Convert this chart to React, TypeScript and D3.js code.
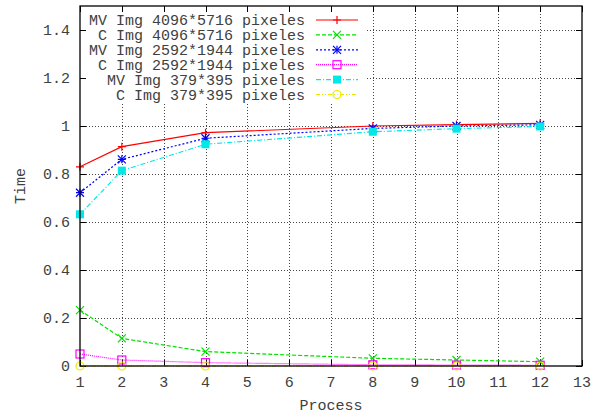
import React, { useRef, useEffect } from "react";
import * as d3 from "d3";

const processes = [1, 2, 4, 8, 10, 12];
const mv4096 = [0.83, 0.914, 0.972, 1.0, 1.006, 1.011];
const c4096 = [0.233, 0.115, 0.06, 0.032, 0.025, 0.018];
const mv2592 = [0.722, 0.861, 0.949, 0.99, 1.0, 1.005];
const c2592 = [0.05, 0.025, 0.014, 0.005, 0.004, 0.003];
const mv379 = [0.632, 0.814, 0.924, 0.976, 0.989, 0.998];
const c379 = [0, 0, 0, 0, 0, 0];

const seriesNames = [
  "MV Img 4096*5716 pixeles",
  "C Img 4096*5716 pixeles",
  "MV Img 2592*1944 pixeles",
  "C Img 2592*1944 pixeles",
  "MV Img 379*395 pixeles",
  "C Img 379*395 pixeles",
];
const xTicks = d3.range(1, 14);
const yTicks = [0, 0.2, 0.4, 0.6, 0.8, 1, 1.2, 1.4];

const styles = [
  { color: "#ff0000", dash: null, marker: "plus" },
  { color: "#00e000", dash: "4,2", marker: "cross" },
  { color: "#0000ff", dash: "2,2", marker: "star" },
  { color: "#ff00ff", dash: "1,1", marker: "box" },
  { color: "#00e8e8", dash: "5,2,1,2", marker: "fbox" },
  { color: "#e8e800", dash: "4,2,1,2,1,2", marker: "circle" },
];

const W = 606;
const H = 417;
const FONT = "'Liberation Mono', 'DejaVu Sans Mono', monospace";
const TXT = "#404040";

function drawMarker(g, kind, cx, cy, color) {
  const s = 4;
  if (kind === "plus" || kind === "star") {
    g.append("path")
      .attr("d", `M${cx - s},${cy}H${cx + s}M${cx},${cy - s}V${cy + s}`)
      .attr("stroke", color).attr("fill", "none");
  }
  if (kind === "cross" || kind === "star") {
    g.append("path")
      .attr("d", `M${cx - s},${cy - s}L${cx + s},${cy + s}M${cx - s},${cy + s}L${cx + s},${cy - s}`)
      .attr("stroke", color).attr("fill", "none");
  }
  if (kind === "box") {
    g.append("rect").attr("x", cx - s).attr("y", cy - s).attr("width", 2 * s).attr("height", 2 * s)
      .attr("stroke", color).attr("fill", "none");
  }
  if (kind === "fbox") {
    g.append("rect").attr("x", cx - s).attr("y", cy - s).attr("width", 2 * s).attr("height", 2 * s)
      .attr("fill", color);
  }
  if (kind === "circle") {
    g.append("circle").attr("cx", cx).attr("cy", cy).attr("r", s)
      .attr("stroke", color).attr("fill", "none");
  }
}

const App = () => {
  const svgRef = useRef(null);

  useEffect(() => {
    const svg = d3.select(svgRef.current);
    svg.selectAll("*").remove();

    const x = d3.scaleLinear().domain([1, 13]).range([80, 582]);
    const y = d3.scaleLinear().domain([0, 1.5]).range([366, 6]);
    const [x0, x1] = x.range();
    const [y0, y1] = y.range();

    // legend box area (grid hidden behind it)
    const keyRight = 367;
    const keyBottom = 103;

    // grid
    const grid = svg.append("g").attr("stroke", "#444").attr("stroke-dasharray", "1,2").attr("stroke-width", 1);
    xTicks.slice(1, -1).forEach((t) => {
      const px = Math.round(x(t)) + 0.5;
      const top = px < keyRight ? keyBottom : y1;
      grid.append("line").attr("x1", px).attr("x2", px).attr("y1", y0).attr("y2", top);
    });
    yTicks.slice(1).forEach((t) => {
      const py = Math.round(y(t)) + 0.5;
      const left = py < keyBottom ? keyRight : x0;
      grid.append("line").attr("x1", left).attr("x2", x1).attr("y1", py).attr("y2", py);
    });

    // ticks
    const ticks = svg.append("g").attr("stroke", "#000").attr("stroke-width", 1);
    xTicks.forEach((t) => {
      const px = Math.round(x(t)) + 0.5;
      ticks.append("line").attr("x1", px).attr("x2", px).attr("y1", y0).attr("y2", y0 - 6);
      ticks.append("line").attr("x1", px).attr("x2", px).attr("y1", y1).attr("y2", y1 + 6);
    });
    yTicks.forEach((t) => {
      const py = Math.round(y(t)) + 0.5;
      ticks.append("line").attr("x1", x0).attr("x2", x0 + 6).attr("y1", py).attr("y2", py);
      ticks.append("line").attr("x1", x1).attr("x2", x1 - 6).attr("y1", py).attr("y2", py);
    });

    // data
    const allSeries = [mv4096, c4096, mv2592, c2592, mv379, c379];
    const line = d3.line().x((d) => x(d[0])).y((d) => y(d[1]));
    allSeries.forEach((vals, i) => {
      const st = styles[i];
      const pts = processes.map((p, j) => [p, vals[j]]);
      svg.append("path")
        .attr("d", line(pts))
        .attr("fill", "none")
        .attr("stroke", st.color)
        .attr("stroke-width", 1.2)
        .attr("stroke-dasharray", st.dash);
      const mg = svg.append("g").attr("stroke-width", 1.2);
      pts.forEach((d) => drawMarker(mg, st.marker, x(d[0]), y(d[1]), st.color));
    });

    // frame
    svg.append("rect")
      .attr("x", x0).attr("y", y1).attr("width", x1 - x0).attr("height", y0 - y1)
      .attr("fill", "none").attr("stroke", "#000").attr("stroke-width", 1.3);

    // legend
    const key = svg.append("g").attr("font-family", FONT).attr("font-size", 15).attr("fill", TXT);
    seriesNames.forEach((name, i) => {
      const cy = 20 + i * 14.9;
      const st = styles[i];
      key.append("text").attr("x", 305).attr("y", cy).attr("dy", "0.35em")
        .attr("text-anchor", "end").text(name);
      key.append("line").attr("x1", 316).attr("x2", 358).attr("y1", cy).attr("y2", cy)
        .attr("stroke", st.color).attr("stroke-width", 1.2).attr("stroke-dasharray", st.dash);
      const mg = key.append("g").attr("stroke-width", 1.2);
      drawMarker(mg, st.marker, 337, cy, st.color);
    });

    // tick labels
    const labels = svg.append("g").attr("font-family", FONT).attr("font-size", 15).attr("fill", TXT);
    xTicks.forEach((t) => {
      labels.append("text").attr("x", x(t)).attr("y", 382).attr("dy", "0.35em")
        .attr("text-anchor", "middle").text(t);
    });
    yTicks.forEach((t) => {
      labels.append("text").attr("x", 70).attr("y", y(t)).attr("dy", "0.35em")
        .attr("text-anchor", "end").text(t === 0 || t === 1 ? String(t) : t.toFixed(1));
    });

    labels.append("text").attr("x", (x0 + x1) / 2).attr("y", 405).attr("dy", "0.35em")
      .attr("text-anchor", "middle").text("Process");
    labels.append("text")
      .attr("transform", `translate(20,${(y0 + y1) / 2}) rotate(-90)`)
      .attr("dy", "0.35em").attr("text-anchor", "middle").text("Time");
  }, []);

  return (
    <svg
      ref={svgRef}
      width={W}
      height={H}
      style={{ position: "absolute", left: 0, top: 0, background: "#fff" }}
    ></svg>
  );
};

export default App;
